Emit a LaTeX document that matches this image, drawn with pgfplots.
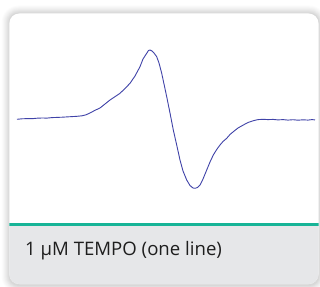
\documentclass[border=0pt]{standalone}
\usepackage{fontspec}
\setmainfont{Open Sans}
\usepackage{pgfplots}
\pgfplotsset{compat=1.18}
\definecolor{linec}{HTML}{4043A8}
\definecolor{teal}{HTML}{17B497}
\definecolor{footgray}{HTML}{E6E7E9}
\definecolor{txt}{HTML}{1E1E1E}
\begin{document}
\begin{tikzpicture}
\begin{axis}[
  scale only axis, width=320pt, height=286pt,
  xmin=0, xmax=320, ymin=0, ymax=286, y dir=reverse,
  axis lines=none, ticks=none, clip=true,
]
% shadow (soft layers)
\fill[black, opacity=0.012, rounded corners=17pt] (axis cs:1.5,5.5) rectangle (axis cs:326.5,293);
\fill[black, opacity=0.014, rounded corners=16pt] (axis cs:2.5,6.5) rectangle (axis cs:325.5,292);
\fill[black, opacity=0.016, rounded corners=15pt] (axis cs:3.5,7.5) rectangle (axis cs:324.5,291);
\fill[black, opacity=0.018, rounded corners=14pt] (axis cs:4.5,8.5) rectangle (axis cs:323.5,290);
\fill[black, opacity=0.020, rounded corners=13pt] (axis cs:5.5,9.5) rectangle (axis cs:322.5,289);
\fill[black, opacity=0.022, rounded corners=12pt] (axis cs:6.5,10.5) rectangle (axis cs:321.5,288);
\fill[black, opacity=0.025, rounded corners=11pt] (axis cs:7.5,11.5) rectangle (axis cs:320.5,287);
\fill[black, opacity=0.03, rounded corners=10pt] (axis cs:8.5,12.5) rectangle (axis cs:319.5,286);
% card
\fill[white, rounded corners=10pt] (axis cs:9.3,13.5) rectangle (axis cs:318.5,284);
\begin{scope}
\clip[rounded corners=10pt] (axis cs:9.3,13.5) rectangle (axis cs:318.5,284);
\fill[footgray] (axis cs:9,225) rectangle (axis cs:320,286);
\fill[teal] (axis cs:9,223.2) rectangle (axis cs:320,226.2);
\end{scope}
\node[anchor=base west, text=txt, inner sep=0pt, font=\fontsize{18.6}{22}\selectfont] at (axis cs:25,255) {1 µM TEMPO (one line)};
\addplot[linec, line width=0.9pt, mark=none, line join=round] coordinates {
(17,119.3) (22,118.8) (27,118.6) (32,118.7) (37,118.2) (42,118.0) (47,118.1) (52,117.6)
(57,117.4) (62,117.2) (67,116.9) (72,116.6) (77,116.3) (82,115.8) (86,114.8) (90,113)
(95,110.3) (100,108) (105,104) (110,100) (115,96.7) (120,93.3) (125,88.5) (130,83.3)
(135,76) (140,66.7) (143,59) (146.7,53.3) (148.5,50.5) (150,50) (152,51) (154,53)
(156.7,56.7) (159,63) (161.7,73.3) (164,84) (166.7,96.7) (170,113) (173.3,130)
(176.7,145) (180,160) (183,171) (186.7,180) (190,185.5) (193,188) (195,188.3)
(197.5,187.5) (200,185) (203,179) (206.7,170) (210,162) (213.3,155) (216.7,149.5)
(220,145) (223,141.5) (226.7,138.3) (230,134.5) (233.3,131.7) (238,128) (243.3,125)
(248,122.5) (253.3,120.7) (258,119.6) (263,119.3) (268,119.6) (273,119.4) (278,119.9)
(283,119.6) (288,120.1) (293,119.7) (298,120.2) (303,119.8) (308,120.1) (312,119.6) (315,119.9)
};
\end{axis}
\pgfresetboundingbox
\path[use as bounding box] (0,0) rectangle (320pt,286pt);
\end{tikzpicture}
\end{document}
